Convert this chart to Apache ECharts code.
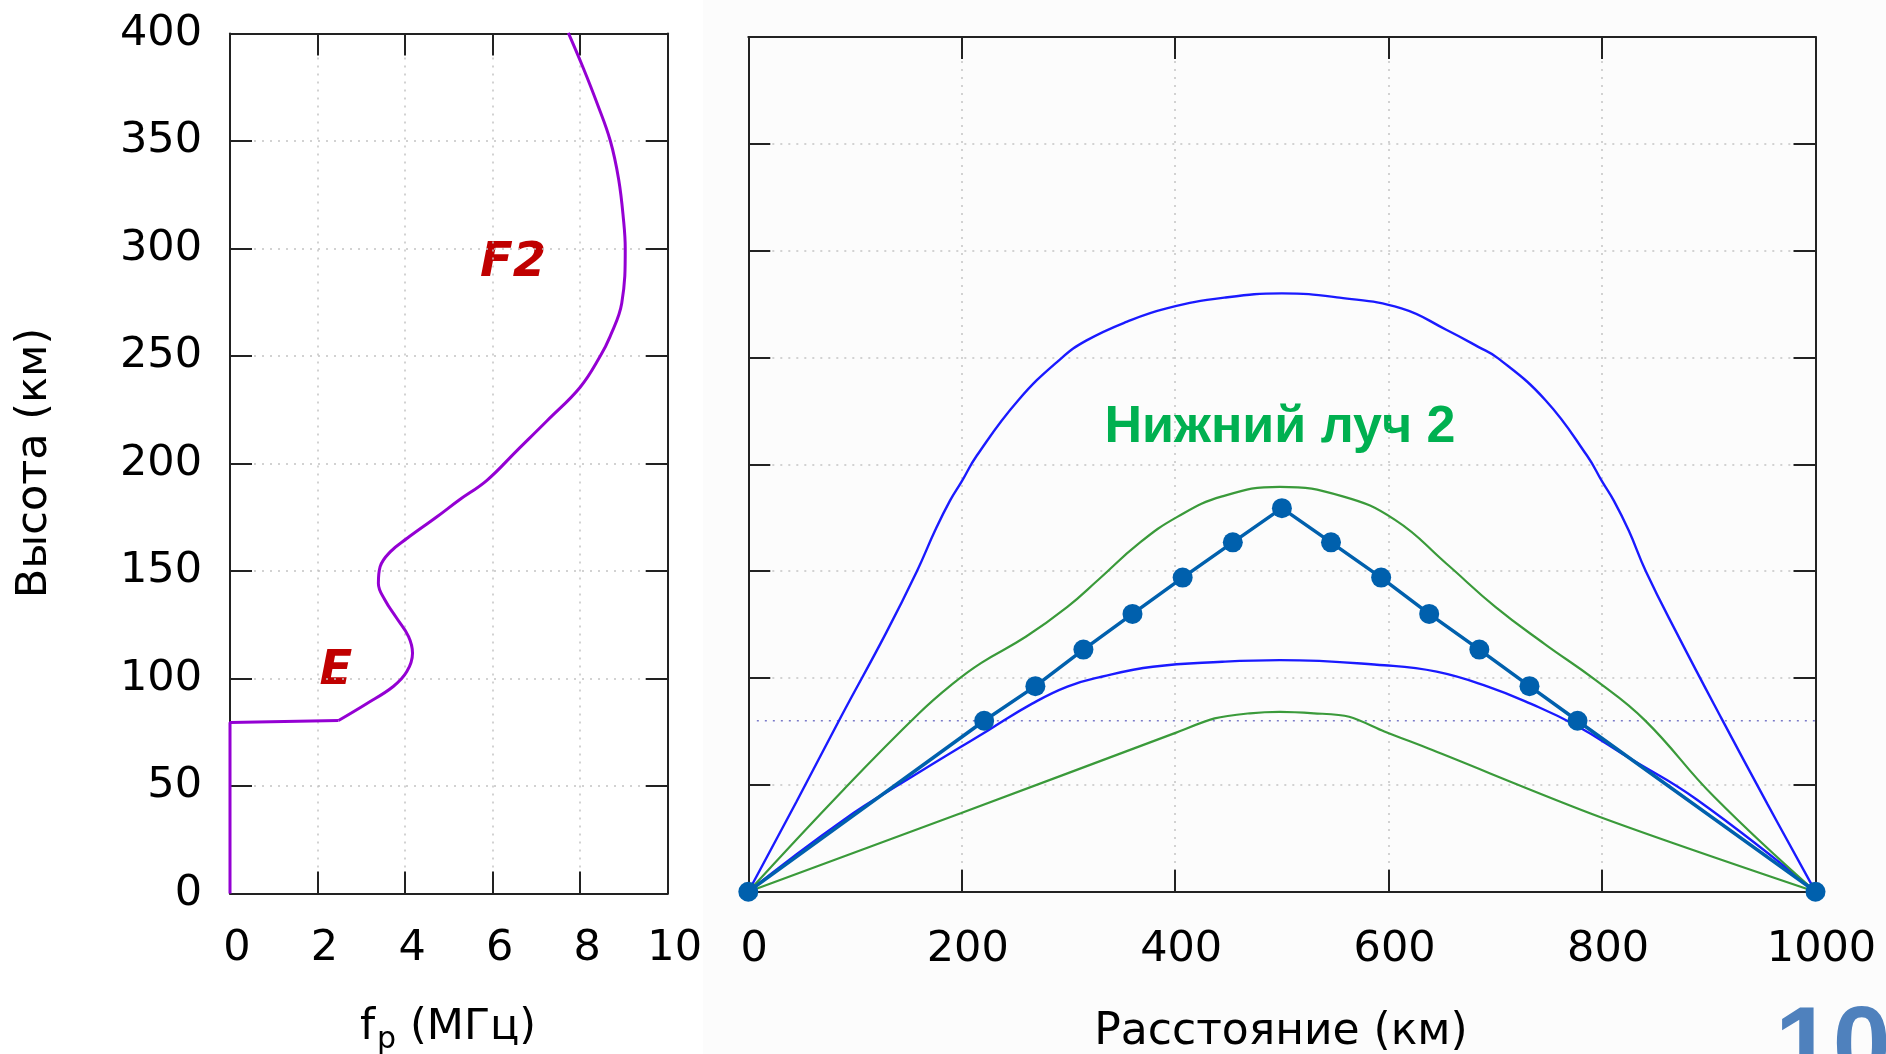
<!DOCTYPE html>
<html>
<head>
<meta charset="utf-8">
<title>Профиль ионосферы и траектории лучей</title>
<script src="https://cdn.jsdelivr.net/npm/echarts@6/dist/echarts.min.js"></script>
<style>
html, body { margin: 0; padding: 0; background: #fff; }
#main { width: 1886px; height: 1054px; }
</style>
</head>
<body>
<div id="main"></div>
<script>
var mychart = echarts.init(document.getElementById('main'));

// tick values of the axes
const fpTicks = [0, 2, 4, 6, 8, 10];
const heightTicks = [0, 50, 100, 150, 200, 250, 300, 350, 400];
const distTicks = [0, 200, 400, 600, 800, 1000];

// plasma frequency profile: [fp MHz, height km]
const profileBase = [[0, 0], [0, 79.5], [2.48, 80.5]];
const profileLayer = [
    [2.48, 80.5], [3.12, 88.3], [3.73, 96.3], [4.04, 103.2], [4.17, 111.8],
    [4.08, 119.5], [3.81, 128], [3.54, 136.5], [3.39, 144.2], [3.43, 152],
    [3.66, 158.9], [4.04, 165.1], [4.72, 175.1], [5.22, 182.8], [5.87, 192.2],
    [6.55, 205.9], [7.25, 220], [8.0, 235.5], [8.46, 250], [8.68, 258.9],
    [8.95, 274.5], [9.03, 300], [8.99, 313.4], [8.88, 332.1], [8.69, 350],
    [8.38, 367.9], [8.08, 383.5], [7.73, 400.3]
];

// ray paths: [distance km, height km]
const upperBlue = [
    [0, 0], [45, 42], [87, 82], [129, 121], [158, 150], [175, 169], [189, 183],
    [200, 192], [214, 204], [253, 230], [293, 249.5], [317, 258], [355, 266.8],
    [392, 273], [446, 278], [500, 280], [554, 278], [612, 273], [654, 263],
    [684, 255], [703, 249.5], [747, 230], [786, 204], [800, 192], [811, 183],
    [825, 169], [841, 150], [870, 121], [912, 81], [955, 41], [1000, 0]
];
const upperGreen = [
    [0, 0], [89, 47.6], [160, 83.5], [192, 97.5], [218, 107], [260, 119.3],
    [299, 133.3], [328, 146], [366, 163], [402, 175.4], [444, 185], [498, 189.5],
    [557, 185], [606, 174], [654, 153.6], [700, 133.3], [746, 116], [794, 99],
    [840, 80.3], [905, 44.4], [1000, 0]
];
const lowerBlue = [
    [0, 0], [89, 33.5], [154, 54], [225, 75.6], [266, 88], [299, 96], [331, 100.6],
    [379, 105.3], [444, 107.6], [498, 108.4], [596, 106], [645, 103], [693, 96],
    [733, 88], [775, 78], [824, 63], [889, 43], [1000, 0]
];
const lowerGreen = [
    [0, 0], [199, 36.7], [399, 74.1], [437, 81.1], [470, 83.5], [498, 84.2],
    [530, 83.5], [563, 81.9], [596, 75], [641, 66.3], [798, 35], [1000, 0]
];
const rayPoints = [
    [0, 0], [221, 80], [269, 96.2], [314, 113.3], [360, 130], [407, 147],
    [454, 163.5], [500, 179.5], [546, 163.5], [593, 147], [638, 130], [685, 113.3],
    [732, 96.2], [777, 80], [1000, 0]
];
const baseLevel = [[8, 80], [1000, 80]];

const FONT = '"DejaVu Sans", Verdana, sans-serif';

var frameLine = { show: true, onZero: false, lineStyle: { color: '#222', width: 2 } };
var frameTick = { show: true, inside: true, length: 22, lineStyle: { color: '#222', width: 2 } };
var dots = { show: true, lineStyle: { color: '#c4c4c4', width: 1.5, type: [2, 6] } };

function tickLabels(margin, shift) {
    return {
        show: true, color: '#000', fontFamily: FONT, fontSize: 43,
        margin: margin, padding: shift,
        showMinLabel: true, showMaxLabel: true,
        formatter: function (v) { return String(v); }
    };
}

function axis(grid, pos, ticks, label, split) {
    return {
        type: 'value', gridIndex: grid, position: pos,
        min: ticks[0], max: ticks[ticks.length - 1], interval: ticks[1] - ticks[0],
        axisLine: frameLine, axisTick: frameTick,
        axisLabel: label || { show: false },
        splitLine: split ? dots : { show: false }
    };
}

function line(xi, data, color, width, extra) {
    var s = {
        type: 'line', xAxisIndex: xi, yAxisIndex: xi, data: data,
        symbol: 'none', lineStyle: { color: color, width: width },
        smooth: 0.45, animation: false
    };
    return Object.assign(s, extra || {});
}

function txt(x, y, text, font, fill, align, vAlign, rot) {
    return {
        type: 'text', x: x, y: y, rotation: rot || 0, silent: true,
        style: {
            text: text, font: font, fill: fill,
            align: align, textAlign: align,
            verticalAlign: vAlign, textVerticalAlign: vAlign
        }
    };
}

var option = {
    animation: false,
    grid: [
        { left: 230, top: 33.5, width: 437.7, height: 860 },
        { left: 748.3, top: 37, width: 1067.2, height: 854.7 }
    ],
    xAxis: [
        axis(0, 'bottom', fpTicks, tickLabels(34, [0, 0, 0, 14]), true),
        axis(0, 'top', fpTicks, null, false),
        axis(1, 'bottom', distTicks, tickLabels(37, [0, 0, 0, 12]), true),
        axis(1, 'top', distTicks, null, false)
    ],
    yAxis: [
        axis(0, 'left', heightTicks, tickLabels(28, 0), true),
        axis(0, 'right', heightTicks, null, false),
        axis(1, 'left', heightTicks, null, true),
        axis(1, 'right', heightTicks, null, false)
    ],
    graphic: [
        {
            type: 'rect', silent: true, z: -100,
            shape: { x: 703, y: 0, width: 1183, height: 1054 },
            style: { fill: '#fcfcfc' }
        },
        txt(35, 463, 'Высота (км)', '43px ' + FONT, '#000', 'center', 'middle', Math.PI / 2),
        txt(360, 1028, 'f', '43px ' + FONT, '#000', 'left', 'middle'),
        txt(377, 1040, 'p', '30px ' + FONT, '#000', 'left', 'middle'),
        txt(410, 1028, '(МГц)', '43px ' + FONT, '#000', 'left', 'middle'),
        txt(1281, 1033, 'Расстояние (км)', '44px ' + FONT, '#000', 'center', 'middle'),
        txt(513, 264, 'F2', 'italic bold 48px ' + FONT, '#c00000', 'center', 'middle'),
        txt(336, 672, 'E', 'italic bold 48px ' + FONT, '#c00000', 'center', 'middle'),
        txt(1280, 428, 'Нижний луч 2', 'bold 52px "Liberation Sans", Arial, sans-serif', '#00b050', 'center', 'middle'),
        txt(1775, 998, '10', 'bold 104px "Liberation Sans", Arial, sans-serif', '#4f81bd', 'left', 'top')
    ],
    series: [
        line(0, profileBase, '#9400d3', 3, { smooth: false, clip: false }),
        line(0, profileLayer, '#9400d3', 3, { smooth: 0.4 }),
        line(2, baseLevel, '#7a7ac8', 1.5, { smooth: false, lineStyle: { color: '#7a7ac8', width: 1.5, type: [2, 6] } }),
        line(2, upperBlue, '#1a1aff', 2.4),
        line(2, lowerBlue, '#1a1aff', 2.4),
        line(2, upperGreen, '#3a9a3a', 2.2),
        line(2, lowerGreen, '#3a9a3a', 2.2, { smooth: 0.3 }),
        line(2, rayPoints, '#0060ad', 3.5, {
            smooth: false, clip: false, symbol: 'circle', symbolSize: 20,
            itemStyle: { color: '#0060ad' }
        })
    ]
};

mychart.setOption(option);
</script>
</body>
</html>
